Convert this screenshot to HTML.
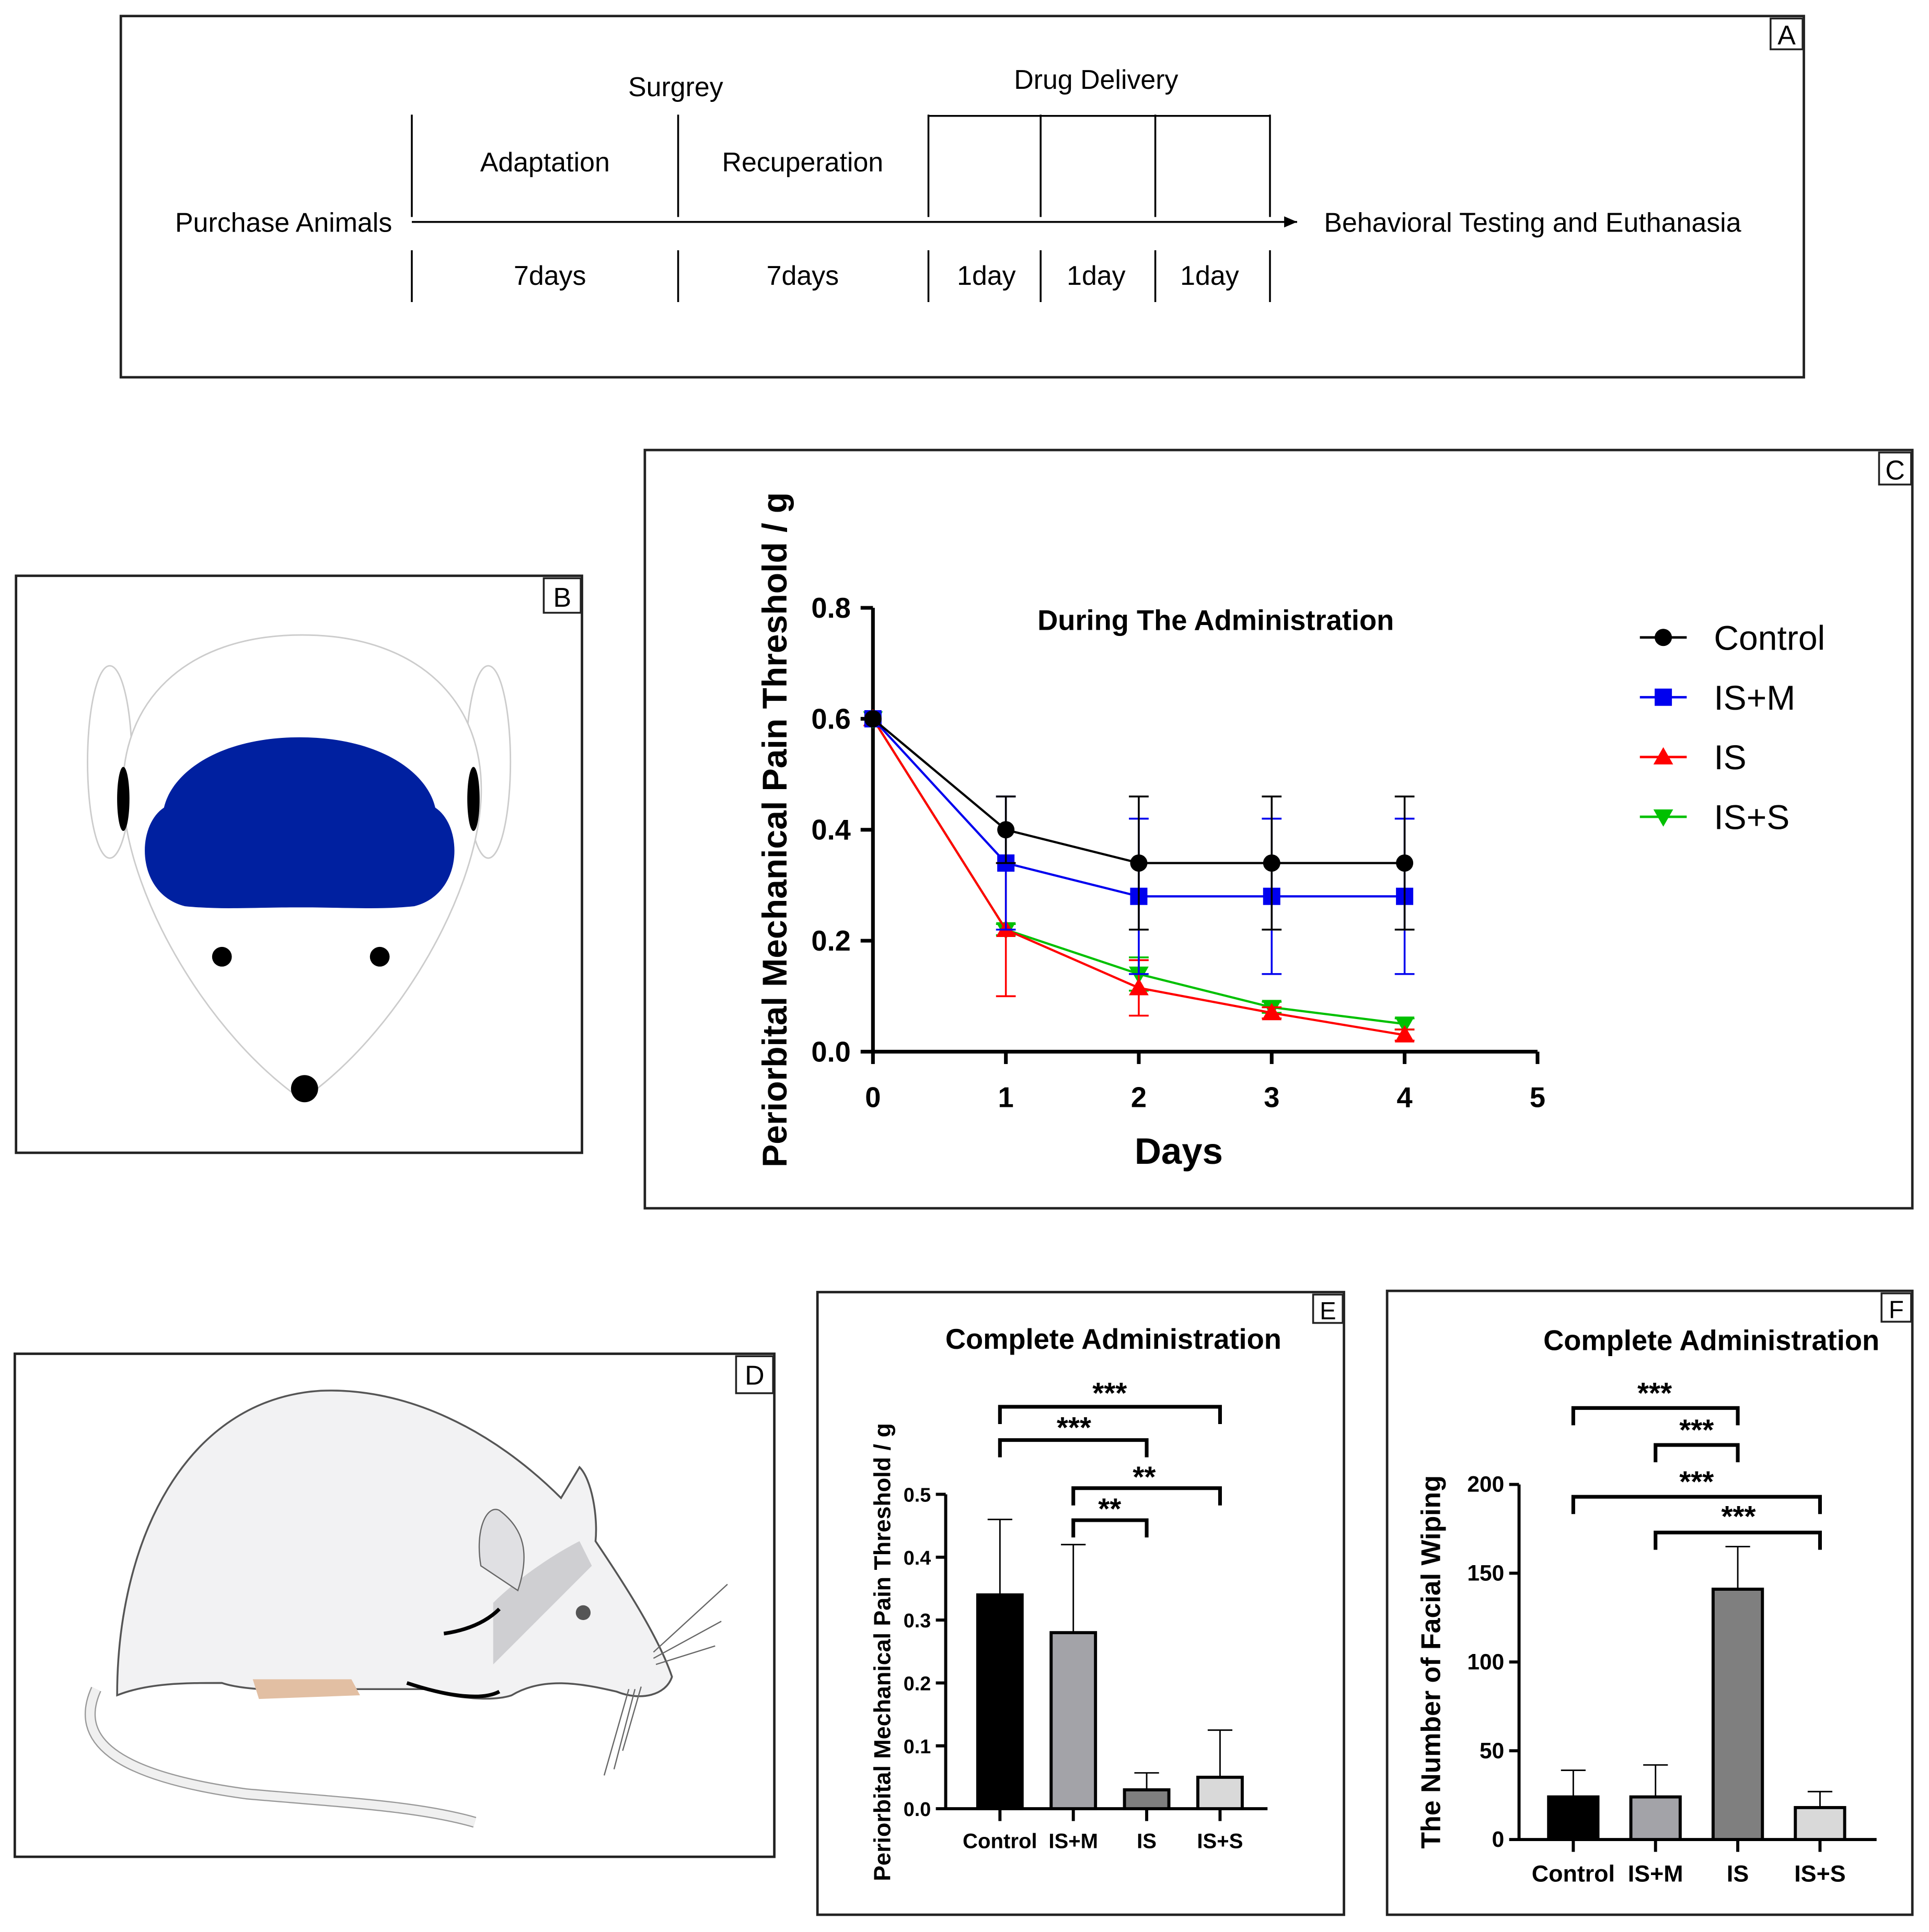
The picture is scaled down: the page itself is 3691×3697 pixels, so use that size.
<!DOCTYPE html>
<html><head><meta charset="utf-8"><style>
html,body{margin:0;padding:0;background:#fff;}
svg{display:block;}
text{font-family:"Liberation Sans",sans-serif;}
</style></head><body>
<svg id="fig" width="3691" height="3697" viewBox="0 0 1564.5 1567" preserveAspectRatio="none" xmlns="http://www.w3.org/2000/svg">
<defs>
<marker id="arr" markerWidth="8" markerHeight="8" refX="7" refY="4" orient="auto"><path d="M0,1 L7,4 L0,7" fill="#000"/></marker>
</defs>
<!-- Panel A -->
<g font-family="Liberation Sans" font-size="22" fill="#000">
<rect x="98" y="13" width="1365" height="293" fill="none" stroke="#222" stroke-width="2"/>
<rect x="1436" y="15" width="26" height="25" fill="#fff" stroke="#222" stroke-width="1.5"/>
<text x="1449" y="36" text-anchor="middle">A</text>
<line x1="334" y1="180" x2="1052" y2="180" stroke="#000" stroke-width="1.5" marker-end="url(#arr)"/>
<g stroke="#000" stroke-width="1.5">
<line x1="334" y1="93" x2="334" y2="176"/><line x1="550" y1="93" x2="550" y2="176"/>
<line x1="753" y1="93" x2="753" y2="176"/><line x1="844" y1="93" x2="844" y2="176"/>
<line x1="937" y1="93" x2="937" y2="176"/><line x1="1030" y1="93" x2="1030" y2="176"/>
<line x1="753" y1="94" x2="1030" y2="94"/>
<line x1="334" y1="203" x2="334" y2="245"/><line x1="550" y1="203" x2="550" y2="245"/>
<line x1="753" y1="203" x2="753" y2="245"/><line x1="844" y1="203" x2="844" y2="245"/>
<line x1="937" y1="203" x2="937" y2="245"/><line x1="1030" y1="203" x2="1030" y2="245"/>
</g>
<text x="230" y="188" text-anchor="middle">Purchase Animals</text>
<text x="548" y="78" text-anchor="middle">Surgrey</text>
<text x="442" y="139" text-anchor="middle">Adaptation</text>
<text x="651" y="139" text-anchor="middle">Recuperation</text>
<text x="889" y="72" text-anchor="middle">Drug Delivery</text>
<text x="1243" y="188" text-anchor="middle">Behavioral Testing and Euthanasia</text>
<text x="446" y="231" text-anchor="middle">7days</text>
<text x="651" y="231" text-anchor="middle">7days</text>
<text x="800" y="231" text-anchor="middle">1day</text>
<text x="889" y="231" text-anchor="middle">1day</text>
<text x="981" y="231" text-anchor="middle">1day</text>
</g>
<!-- Panel B -->
<g>
<rect x="13" y="467" width="459" height="468" fill="none" stroke="#222" stroke-width="2"/>
<rect x="441" y="469" width="30" height="28" fill="#fff" stroke="#222" stroke-width="1.5"/>
<text x="456" y="492" text-anchor="middle" font-size="22">B</text>
<ellipse cx="89" cy="618" rx="18" ry="78" fill="#fff" stroke="#ccc" stroke-width="1.2"/>
<ellipse cx="396" cy="618" rx="18" ry="78" fill="#fff" stroke="#ccc" stroke-width="1.2"/>
<path d="M245,515 C150,515 95,570 100,650 C105,730 170,840 245,892 C320,840 385,730 390,650 C395,570 340,515 245,515 Z" fill="#fff" stroke="#ccc" stroke-width="1.2"/>
<ellipse cx="100" cy="648" rx="5" ry="26" fill="#000"/>
<ellipse cx="384" cy="648" rx="5" ry="26" fill="#000"/>
<path d="M243,598 C180,598 140,625 133,655 C110,670 110,725 150,735 C180,738 200,736 243,736 C286,736 306,738 336,735 C376,725 376,670 353,655 C346,625 306,598 243,598 Z" fill="#0020a0"/>
<circle cx="180" cy="776" r="8" fill="#000"/><circle cx="308" cy="776" r="8" fill="#000"/>
<circle cx="247" cy="883" r="11" fill="#000"/>
</g>
<!-- Panel D -->
<g>
<rect x="12" y="1098" width="616" height="408" fill="none" stroke="#222" stroke-width="2"/>
<rect x="597" y="1100" width="30" height="30" fill="#fff" stroke="#222" stroke-width="1.5"/>
<text x="612" y="1123" text-anchor="middle" font-size="22">D</text>
<path d="M78,1370 C60,1410 90,1440 200,1455 C280,1462 340,1465 385,1478" fill="none" stroke="#999" stroke-width="9"/>
<path d="M78,1370 C60,1410 90,1440 200,1455 C280,1462 340,1465 385,1478" fill="none" stroke="#f0f0f0" stroke-width="7"/>
<path d="M95,1375 C95,1250 150,1135 260,1128 C330,1125 400,1160 455,1215 L470,1190 C480,1200 485,1230 483,1250 C510,1290 535,1330 545,1360 C540,1375 520,1380 500,1372 C470,1365 440,1360 415,1375 C400,1380 370,1378 345,1370 L290,1370 C250,1372 200,1372 180,1365 C150,1365 120,1365 95,1375 Z" fill="#f2f2f3" stroke="#555" stroke-width="1.5"/>
<path d="M400,1300 C420,1280 450,1260 470,1250 L480,1270 C450,1300 420,1330 400,1350 Z" fill="#cfcfd2"/>
<path d="M360,1325 C380,1322 395,1315 405,1305" fill="none" stroke="#000" stroke-width="3"/>
<path d="M330,1365 C360,1375 390,1380 405,1372" fill="none" stroke="#000" stroke-width="3"/>
<path d="M390,1270 C385,1240 395,1220 405,1225 C425,1240 430,1260 420,1290 Z" fill="#e0e0e3" stroke="#666" stroke-width="1"/>
<path d="M205,1362 L285,1362 L292,1375 L210,1378 Z" fill="#e2bfa3"/>
<circle cx="473" cy="1308" r="6" fill="#555"/>
<g stroke="#666" stroke-width="1" fill="none">
<path d="M530,1340 L590,1285"/><path d="M530,1345 L585,1315"/><path d="M532,1350 L580,1335"/>
<path d="M510,1370 L490,1440"/><path d="M515,1370 L498,1435"/><path d="M520,1368 L505,1420"/>
</g>
</g>
<!-- Panel C -->
<g id="panelC">
<rect x="523" y="365" width="1028" height="615" fill="none" stroke="#222" stroke-width="2"/>
<rect x="1524" y="367" width="26" height="26" fill="#fff" stroke="#222" stroke-width="1.5"/>
<text x="1537" y="389" text-anchor="middle" font-size="22">C</text>
<text x="986" y="511" text-anchor="middle" font-size="23" font-weight="bold">During The Administration</text>
<text x="956" y="944" text-anchor="middle" font-size="30" font-weight="bold">Days</text>
<text transform="translate(638,673) rotate(-90)" text-anchor="middle" font-size="28" font-weight="bold">Periorbital Mechanical Pain Threshold / g</text>
</g>
<!-- Panel E -->
<g id="panelE">
<rect x="663" y="1048" width="427" height="505" fill="none" stroke="#222" stroke-width="2"/>
<rect x="1065" y="1050" width="24" height="23" fill="#fff" stroke="#222" stroke-width="1.5"/>
<text x="1077" y="1070" text-anchor="middle" font-size="20">E</text>
<text x="903" y="1094" text-anchor="middle" font-size="23" font-weight="bold">Complete Administration</text>
<text transform="translate(722,1340) rotate(-90)" text-anchor="middle" font-size="19" font-weight="bold">Periorbital Mechanical Pain Threshold / g</text>
</g>
<!-- Panel F -->
<g id="panelF">
<rect x="1125" y="1047" width="426" height="506" fill="none" stroke="#222" stroke-width="2"/>
<rect x="1526" y="1049" width="24" height="23" fill="#fff" stroke="#222" stroke-width="1.5"/>
<text x="1538" y="1069" text-anchor="middle" font-size="20">F</text>
<text x="1388" y="1095" text-anchor="middle" font-size="23" font-weight="bold">Complete Administration</text>
<text transform="translate(1168,1348) rotate(-90)" text-anchor="middle" font-size="22" font-weight="bold">The Number of Facial Wiping</text>
</g>
</svg>
<script>
const days = [0, 1, 2, 3, 4];
const xTicksC = [0, 1, 2, 3, 4, 5];
const yTicksC = [0.0, 0.2, 0.4, 0.6, 0.8];
const seriesNames = ["Control", "IS+M", "IS", "IS+S"];
const controlVals = [0.6, 0.40, 0.34, 0.34, 0.34];
const controlErr = [0, 0.06, 0.12, 0.12, 0.12];
const ismVals = [0.6, 0.34, 0.28, 0.28, 0.28];
const ismErr = [0, 0.12, 0.14, 0.14, 0.14];
const isVals = [0.6, 0.22, 0.115, 0.07, 0.03];
const isErr = [0, 0.12, 0.05, 0.01, 0.01];
const issVals = [0.6, 0.22, 0.14, 0.08, 0.05];
const issErr = [0, 0.01, 0.03, 0.01, 0.01];

const groupsE = ["Control", "IS+M", "IS", "IS+S"];
const valsE = [0.34, 0.28, 0.03, 0.05];
const errE = [0.12, 0.14, 0.027, 0.075];
const yTicksE = [0.0, 0.1, 0.2, 0.3, 0.4, 0.5];

const groupsF = ["Control", "IS+M", "IS", "IS+S"];
const valsF = [24, 24, 141, 18];
const errF = [15, 18, 24, 9];
const yTicksF = [0, 50, 100, 150, 200];

const NS = "http://www.w3.org/2000/svg";
function mk(parent, tag, attrs, txt) {
  const e = document.createElementNS(NS, tag);
  for (const k in attrs) e.setAttribute(k, attrs[k]);
  if (txt !== undefined) e.textContent = txt;
  parent.appendChild(e);
  return e;
}
function fmt1(v){ return v.toFixed(1); }

// ---- Chart C ----
(function(){
  const g = document.getElementById('panelC');
  const xS = d => 708 + d * 107.8;
  const yS = v => 853 - v * 450;
  let ax = mk(g,'line',{x1:708,y1:yS(0),x2:xS(5),y2:yS(0),stroke:'#000','stroke-width':3});
  
  
  ax = mk(g,'line',{x1:708,y1:yS(0)+1,x2:708,y2:yS(0.8),stroke:'#000','stroke-width':3});
  
  
  xTicksC.forEach(t=>{
    mk(g,'line',{x1:xS(t),y1:yS(0),x2:xS(t),y2:yS(0)+10,stroke:'#000','stroke-width':3});
    const tx = mk(g,'text',{x:xS(t),y:yS(0)+45,'text-anchor':'middle','font-size':23,'font-weight':'bold'},String(t));
    
    
  });
  yTicksC.forEach(t=>{
    mk(g,'line',{x1:698,y1:yS(t),x2:708,y2:yS(t),stroke:'#000','stroke-width':3});
    const tx = mk(g,'text',{x:690,y:yS(t)+8,'text-anchor':'end','font-size':23,'font-weight':'bold'},fmt1(t));
    
    
  });
  const series = [
    {vals:controlVals, err:controlErr, col:'#000', m:'circle'},
    {vals:ismVals, err:ismErr, col:'#0000ee', m:'square'},
    {vals:isVals, err:isErr, col:'#ff0000', m:'tri'},
    {vals:issVals, err:issErr, col:'#00c000', m:'itri'}
  ];
  function marker(gg, x, y, s){
    if (s.m==='circle') return mk(gg,'circle',{cx:x,cy:y,r:7,fill:s.col});
    if (s.m==='square') return mk(gg,'rect',{x:x-7,y:y-7,width:14,height:14,fill:s.col});
    if (s.m==='tri') return mk(gg,'path',{d:`M${x},${y-8} L${x+8},${y+6} L${x-8},${y+6} Z`,fill:s.col});
    return mk(gg,'path',{d:`M${x},${y+8} L${x+8},${y-6} L${x-8},${y-6} Z`,fill:s.col});
  }
  series.slice().reverse().forEach((s,ri)=>{
    const i = series.length-1-ri;
    const sg = mk(g,'g',{});
    
    
    s.vals.forEach((v,j)=>{
      if (s.err[j] > 0.005) {
        const x = xS(days[j]);
        mk(sg,'line',{x1:x,y1:yS(v-s.err[j]),x2:x,y2:yS(v+s.err[j]),stroke:s.col,'stroke-width':1.5});
        mk(sg,'line',{x1:x-8,y1:yS(v+s.err[j]),x2:x+8,y2:yS(v+s.err[j]),stroke:s.col,'stroke-width':1.5});
        mk(sg,'line',{x1:x-8,y1:yS(v-s.err[j]),x2:x+8,y2:yS(v-s.err[j]),stroke:s.col,'stroke-width':1.5});
      }
    });
    mk(sg,'polyline',{points:s.vals.map((v,j)=>xS(days[j])+','+yS(v)).join(' '),fill:'none',stroke:s.col,'stroke-width':1.8});
    s.vals.forEach((v,j)=>{
      const m = marker(sg, xS(days[j]), yS(v), s);
      
      
    });
  });
  series.forEach((s,i)=>{
    const ly = 517 + i*48.5;
    const lg = mk(g,'g',{});
    
    
    mk(lg,'line',{x1:1330,y1:ly,x2:1368,y2:ly,stroke:s.col,'stroke-width':2});
    marker(lg,1349,ly,s);
    mk(lg,'text',{x:1390,y:ly+10,'font-size':28},seriesNames[i]);
  });
})();

// ---- bar chart helper ----
function barChart(gid, groups, vals, errs, ticks, cfg) {
  const g = document.getElementById(gid);
  const yS = v => cfg.y0 - v * cfg.k;
  const colors = ['#000','#a3a3a8','#7f7f7f','#d9d9d9'];
  let ax = mk(g,'line',{x1:cfg.axL,y1:cfg.y0,x2:cfg.axR,y2:cfg.y0,stroke:'#000','stroke-width':2.5});
  
  
  ax = mk(g,'line',{x1:cfg.axL,y1:cfg.y0+1,x2:cfg.axL,y2:yS(ticks[ticks.length-1]),stroke:'#000','stroke-width':2.5});
  
  
  ticks.forEach(t=>{
    mk(g,'line',{x1:cfg.axL-8,y1:yS(t),x2:cfg.axL,y2:yS(t),stroke:'#000','stroke-width':2.5});
    const tx = mk(g,'text',{x:cfg.axL-12,y:yS(t)+6,'text-anchor':'end','font-size':cfg.fs,'font-weight':'bold'},cfg.fmt(t));
    
    
  });
  groups.forEach((name,i)=>{
    const cx = cfg.c0 + i*cfg.step;
    const v = vals[i], e = errs[i];
    mk(g,'line',{x1:cx,y1:yS(v),x2:cx,y2:yS(v+e),stroke:'#000','stroke-width':1.2});
    mk(g,'line',{x1:cx-10,y1:yS(v+e),x2:cx+10,y2:yS(v+e),stroke:'#000','stroke-width':1.2});
    const b = mk(g,'rect',{x:cx-cfg.bw/2,y:yS(v),width:cfg.bw,height:cfg.y0-yS(v),fill:colors[i],stroke:'#000','stroke-width':2.5});
    
    
    mk(g,'line',{x1:cx,y1:cfg.y0,x2:cx,y2:cfg.y0+10,stroke:'#000','stroke-width':2.5});
    const tx = mk(g,'text',{x:cx,y:cfg.y0+cfg.lblOff,'text-anchor':'middle','font-size':cfg.lfs,'font-weight':'bold'},name);
    
    
  });
  cfg.sig.forEach(s=>{
    const x1 = cfg.c0 + s[0]*cfg.step, x2 = cfg.c0 + s[1]*cfg.step;
    const sg = mk(g,'g',{});
    
    
    mk(sg,'path',{d:`M${x1},${s[2]+14} L${x1},${s[2]} L${x2},${s[2]} L${x2},${s[2]+14}`,fill:'none',stroke:'#000','stroke-width':3});
    mk(sg,'text',{x:s[3],y:s[4],'text-anchor':'middle','font-size':cfg.sfs,'font-weight':'bold'},s[5]);
  });
}
barChart('panelE', groupsE, valsE, errE, yTicksE, {
  y0:1467, k:510, axL:767, axR:1028, c0:811, step:59.5, bw:36, fs:16, lfs:17, lblOff:32, sfs:24,
  fmt:fmt1,
  sig:[[0,3,1141,900,1138,'***'],[0,2,1168,871,1166,'***'],[1,3,1207,928,1206,'**'],[1,2,1233,900,1232,'**']]
});
barChart('panelF', groupsF, valsF, errF, yTicksF, {
  y0:1492, k:1.44, axL:1232, axR:1522, c0:1276, step:66.7, bw:40, fs:18, lfs:19, lblOff:34, sfs:24,
  fmt:t=>String(t),
  sig:[[0,2,1142,1342,1138,'***'],[1,2,1172,1376,1168,'***'],[0,3,1214,1376,1210,'***'],[1,3,1243,1410,1238,'***']]
});
</script>
</body></html>
